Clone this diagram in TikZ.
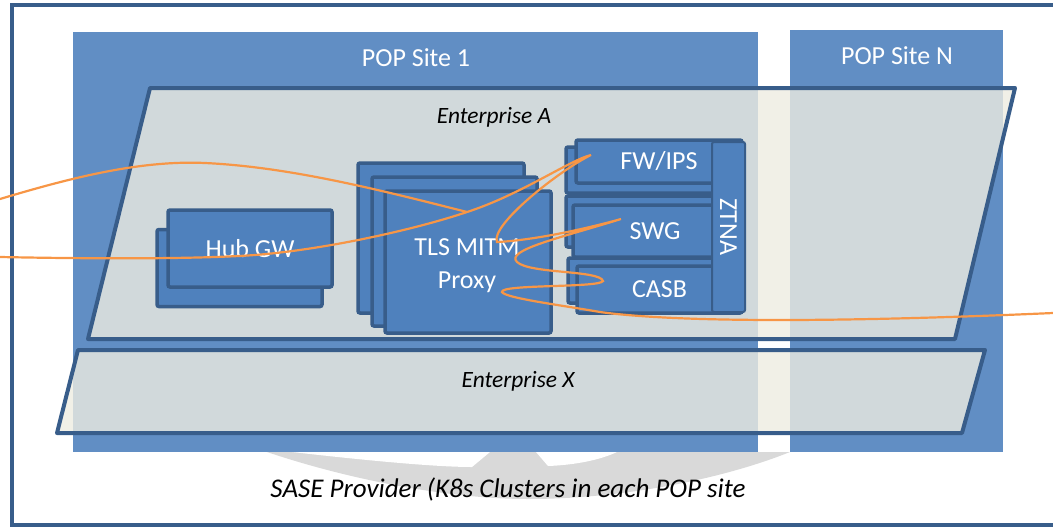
\documentclass[tikz,border=0pt]{standalone}
\usepackage{fontspec}
\setmainfont{Carlito}
\definecolor{popblue}{RGB}{97,142,196}
\definecolor{boxblue}{RGB}{79,129,189}
\definecolor{edgeblue}{RGB}{56,93,138}
\definecolor{flowor}{RGB}{247,150,70}
\definecolor{entfill}{RGB}{238,236,225}
\definecolor{markgray}{RGB}{217,217,217}
\begin{document}
\begin{tikzpicture}[x=1pt,y=-1pt,
  box/.style={draw=edgeblue, fill=boxblue, line width=3.5, rounded corners=2, inner sep=0pt, text=white, font=\fontsize{26}{33}\selectfont, align=center},
  ent/.style={draw=edgeblue, fill=entfill, fill opacity=0.8, line width=4, line join=round},
  poplbl/.style={text=white, font=\fontsize{26}{30}\selectfont},
  entlbl/.style={font=\itshape\fontsize{23.4}{28}\selectfont},
  flow/.style={draw=flowor, line width=2.2}]
\useasboundingbox (0,0) rectangle (1053,528);

% watermark below the sites
\begin{scope}
\clip (14,452) rectangle (1053,523);
\fill[markgray] (260,440) -- (267,452) .. controls (350,480) and (450,499) .. (528,499)
  .. controls (620,499) and (720,480) .. (790,452) -- (795,440) -- cycle;
\fill[white] (292,452) .. controls (380,462) and (440,467) .. (472,467) -- (490,452) -- cycle;
\fill[white] (536,452) -- (548,466) .. controls (575,465) and (600,460) .. (617,452) -- cycle;
\end{scope}

% provider frame
\draw[edgeblue, line width=4] (12,5) rectangle (1080,525);

% POP sites
\fill[popblue] (73,32) rectangle (758,452);
\fill[popblue] (790,30) rectangle (1003,452);
\node[poplbl] (pop1) at (416,58) {POP Site 1};
\node[poplbl] (popn) at (897,56) {POP Site N};

% enterprises
\draw[ent] (150,88) -- (1015,88) -- (955,339) -- (88,339) -- cycle;
\draw[ent] (78,350) -- (985,350) -- (962,433) -- (57,433) -- cycle;
\node[entlbl] (enta) at (494,117) {Enterprise A};
\node[entlbl] (entx) at (518,381) {Enterprise X};
\node[entlbl, font=\itshape\fontsize{27}{32}\selectfont] (sase) at (508,489) {SASE Provider (K8s Clusters in each POP site};

% hub gateway
\node[box, minimum width=165, minimum height=77] (hubback) at (239.5,268) {};
\node[box, minimum width=164, minimum height=77] (hubgw) at (250,248.5) {Hub GW};

% proxy stack
\node[box, minimum width=166, minimum height=150] (tlsback) at (441,238) {};
\node[box, minimum width=165, minimum height=149] (tlsmid) at (454.5,251.5) {};
\node[box, minimum width=166, minimum height=142] (tls) at (468,262) {};
\node[box, draw=none, fill=none] (tlstext) at (467,266) {TLS MITM\\Proxy};

% security services
\node[box, minimum width=174, minimum height=46] (fwback) at (653,170) {};
\node[box, minimum width=166, minimum height=43] (fw) at (659,161.5) {FW/IPS};
\node[box, minimum width=174, minimum height=51] (swgback) at (653,221.5) {};
\node[box, minimum width=169, minimum height=52] (swg) at (657.5,231) {\hspace*{-5pt}SWG};
\node[box, minimum width=172, minimum height=45] (casbback) at (654,280.5) {};
\node[box, minimum width=165, minimum height=47] (casb) at (659.5,289.5) {CASB};
\node[box, line width=2, minimum width=33, minimum height=170] (ztna) at (728.5,227) {\rotatebox{-90}{ZTNA}};

% traffic
\coordinate (ina) at (0,199);
\coordinate (inb) at (0,257);
\coordinate (outr) at (1053,313);
\coordinate (tlsjoin) at (467,212);
\coordinate (fwtip) at (591,155);
\coordinate (swgtip) at (621,219);
\coordinate (casbtip) at (603,281);
\coordinate (turna) at (497,242);
\coordinate (turnb) at (517,262);
\coordinate (turnc) at (502,292);
\draw[flow] (ina) .. controls (70,178) and (140,160) .. (205,163)
  .. controls (290,167) and (380,190) .. (tlsjoin);
\draw[flow] (inb) .. controls (100,259) and (200,259) .. (255,255)
  .. controls (330,249) and (420,228) .. (tlsjoin)
  .. controls (520,195) and (570,160) .. (fwtip)
  .. controls (560,170) and (490,225) .. (turna)
  .. controls (540,240) and (600,225) .. (swgtip)
  .. controls (560,238) and (505,250) .. (turnb)
  .. controls (530,274) and (600,270) .. (casbtip)
  .. controls (600,288) and (500,284) .. (turnc)
  .. controls (505,298) and (560,305) .. (600,312)
  .. controls (680,323) and (850,322) .. (outr);
\end{tikzpicture}
\end{document}
